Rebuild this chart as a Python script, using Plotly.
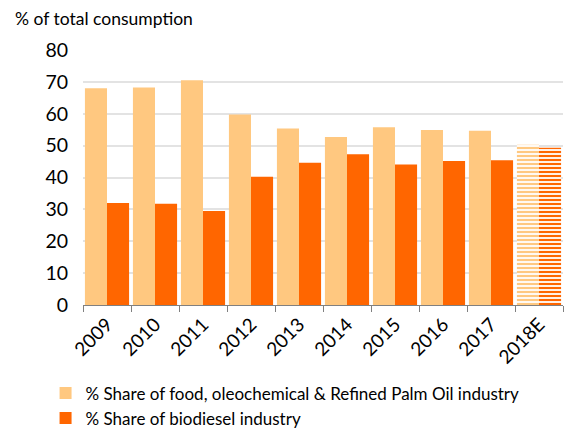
import plotly.graph_objects as go

years = ["2009", "2010", "2011", "2012", "2013", "2014", "2015", "2016", "2017", "2018E"]
food_share = [68.0, 68.2, 70.5, 59.8, 55.4, 52.7, 55.8, 54.9, 54.7, 50.3]
biodiesel_share = [32.0, 31.8, 29.5, 40.2, 44.6, 47.3, 44.1, 45.2, 45.4, 49.3]
y_ticks = [0, 10, 20, 30, 40, 50, 60, 70, 80]

FOOD = "#FFC880"
BIO = "#FF6600"
FONT = "Lato"

shapes = ["" for _ in years[:-1]] + ["-"]

fig = go.Figure()
fig.add_trace(go.Bar(
    x=years, y=food_share,
    name="% Share of food, oleochemical & Refined Palm Oil industry",
    marker=dict(color=FOOD, line=dict(width=0),
                pattern=dict(shape=shapes, size=4, solidity=0.55, fgcolor=FOOD, bgcolor="white", fillmode="replace")),
))
fig.add_trace(go.Bar(
    x=years, y=biodiesel_share,
    name="% Share of biodiesel industry",
    marker=dict(color=BIO, line=dict(width=0),
                pattern=dict(shape=shapes, size=4, solidity=0.55, fgcolor=BIO, bgcolor="white", fillmode="replace")),
))

fig.update_layout(
    width=568, height=430,
    margin=dict(l=83, r=5, t=50, b=125, autoexpand=False),
    paper_bgcolor="white", plot_bgcolor="white",
    barmode="group", bargap=0.08, bargroupgap=0,
    font=dict(family=FONT, color="#000000"),
    showlegend=True,
    legend=dict(x=-0.078, y=-0.276, xanchor="left", yanchor="top",
                orientation="v", font=dict(size=17, color="#000"),
                itemwidth=30, tracegroupgap=0, bgcolor="rgba(0,0,0,0)"),
    xaxis=dict(type="category", tickangle=-45, tickfont=dict(size=19),
               showgrid=False, showline=True, linecolor="#808080", linewidth=1,
               ticks="outside", tickson="boundaries", ticklen=6, tickcolor="#808080",
               automargin=False),
    yaxis=dict(range=[0, 80], tickvals=y_ticks, tickfont=dict(size=19.5),
               showgrid=True, gridcolor="#E3E3E3", gridwidth=1.5,
               zeroline=False, showline=False, ticks="", ticklabelstandoff=14,
               automargin=False),
    annotations=[dict(text="% of total consumption", xref="paper", yref="paper",
                      x=-0.146, y=1.125, xanchor="left", yanchor="middle",
                      showarrow=False, font=dict(size=17.5, color="#000"))],
)

fig.write_html("out.html", config={"displayModeBar": False},
               post_script="document.body.style.margin='0px';")
